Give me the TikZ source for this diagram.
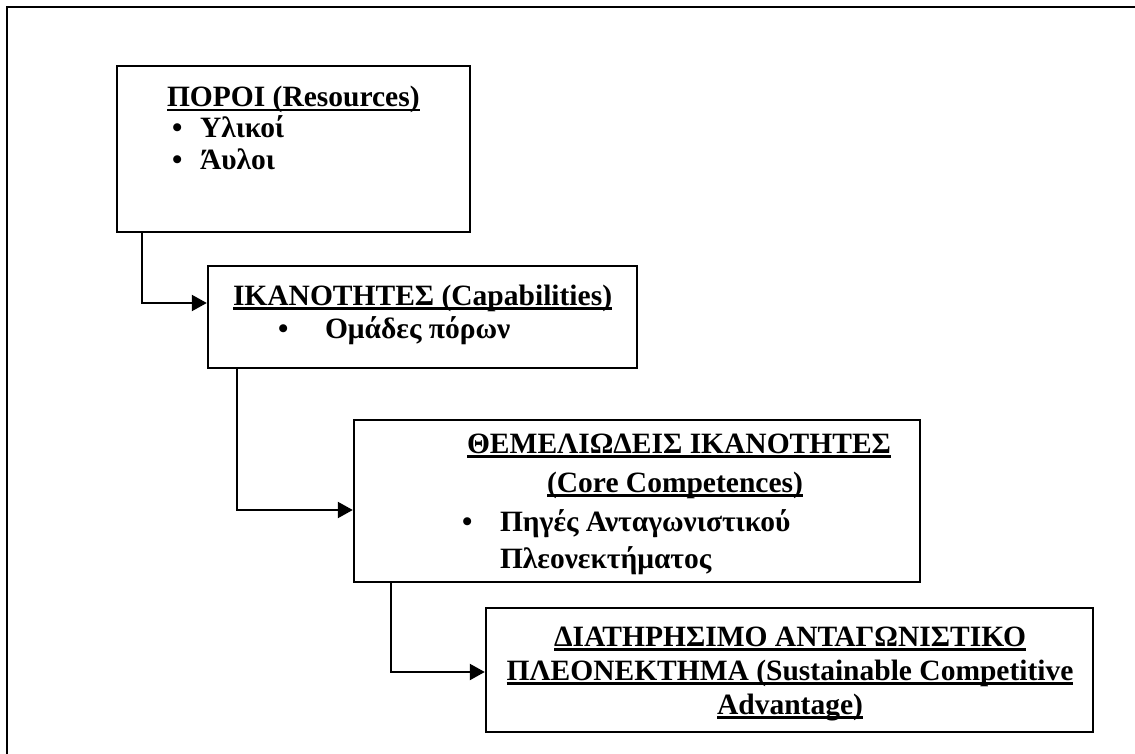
\documentclass[tikz,border=0pt]{standalone}
\usepackage{fontspec}
\setmainfont{Liberation Serif}
\usetikzlibrary{arrows.meta}
\newcommand{\ulx}[1]{\setbox0=\hbox{#1}\rlap{\rule[-4.5pt]{\wd0}{2.5pt}}\box0}
\tikzset{
  box/.style={draw=black, line width=2.4pt, rectangle, inner sep=0pt, fill=white},
  txt/.style={inner sep=0pt, outer sep=0pt, font=\bfseries\fontsize{29.5}{34}\selectfont},
  conn/.style={line width=2.2pt, -{Triangle[length=15pt,width=16pt]}},
}
\begin{document}
\begin{tikzpicture}[x=1pt,y=-1pt]
\useasboundingbox (0,0) rectangle (1135,754);
\fill[white] (0,0) rectangle (1135,754);
% outer frame (left and top edges)
\draw[line width=2.5pt] (7,754) -- (7,7) -- (1135,7);

% boxes
\node[box, minimum width=353pt, minimum height=166pt] (b1) at (293.5,149) {};
\node[box, minimum width=429pt, minimum height=102pt] (b2) at (422.5,317) {};
\node[box, minimum width=566pt, minimum height=162pt] (b3) at (637,501) {};
\node[box, minimum width=607pt, minimum height=124pt] (b4) at (789.5,670) {};

% connectors
\draw[conn] ([xshift=26pt]b1.south west) |- ([yshift=14pt]b2.west);
\draw[conn] ([xshift=30pt]b2.south west) |- ([yshift=-9pt]b3.west);
\draw[conn] ([xshift=38pt]b3.south west) |- ([yshift=-2pt]b4.west);

% box 1 text
\node[txt, anchor=base west] (t1) at (167,107) {\ulx{ΠΟΡΟΙ (Resources)}};
\node[txt, anchor=base west] (t1b1) at (172,138) {•};
\node[txt, anchor=base west] (t1i1) at (200,138) {Υλικοί};
\node[txt, anchor=base west] (t1b2) at (172,170) {•};
\node[txt, anchor=base west] (t1i2) at (200,170) {Άυλοι};

% box 2 text
\node[txt, anchor=base west] (t2) at (233,305) {\ulx{ΙΚΑΝΟΤΗΤΕΣ (Capabilities)}};
\node[txt, anchor=base west] (t2b1) at (278,338) {•};
\node[txt, anchor=base west] (t2i1) at (325,338) {Ομάδες πόρων};

% box 3 text
\node[txt, anchor=base] (t3a) at (679,453) {\ulx{ΘΕΜΕΛΙΩΔΕΙΣ ΙΚΑΝΟΤΗΤΕΣ}};
\node[txt, anchor=base] (t3b) at (675,492) {\ulx{(Core Competences)}};
\node[txt, anchor=base west] (t3b1) at (462,531) {•};
\node[txt, anchor=base west] (t3i1) at (500,531) {Πηγές Ανταγωνιστικού};
\node[txt, anchor=base west] (t3i2) at (500,568) {Πλεονεκτήματος};

% box 4 text
\node[txt, anchor=base] (t4a) at (790,646) {\ulx{ΔΙΑΤΗΡΗΣΙΜΟ ΑΝΤΑΓΩΝΙΣΤΙΚΟ}};
\node[txt, anchor=base] (t4b) at (790,680) {\ulx{ΠΛΕΟΝΕΚΤΗΜΑ (Sustainable Competitive}};
\node[txt, anchor=base] (t4c) at (790,714) {\ulx{Advantage)}};
\end{tikzpicture}
\end{document}
